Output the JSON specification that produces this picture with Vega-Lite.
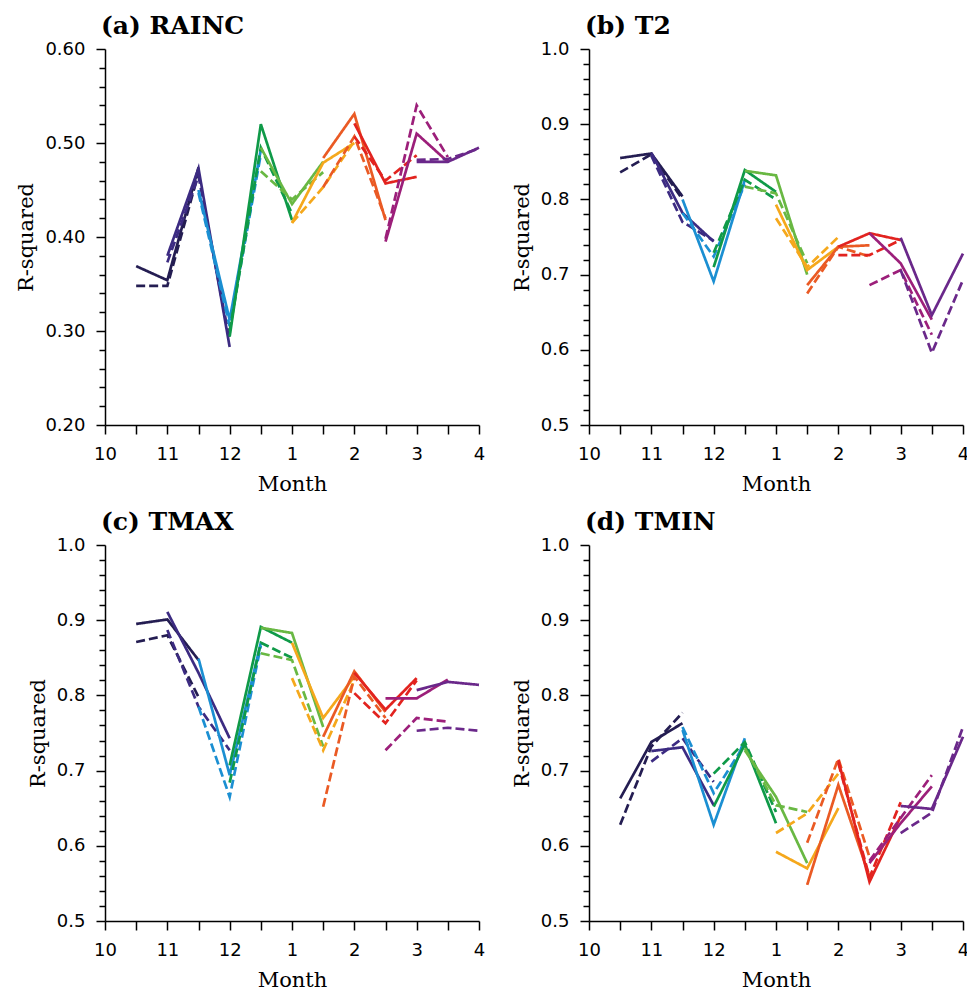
{
  "$schema": "https://vega.github.io/schema/vega-lite/v6.json",
  "padding": {"left": 15, "top": 14, "right": 0, "bottom": 0},
  "background": "white",
  "datasets": {
    "a": [
      {"s": "1", "k": "solid", "t": 0.5, "v": 0.369}, {"s": "1", "k": "solid", "t": 1, "v": 0.354}, {"s": "1", "k": "solid", "t": 1.5, "v": 0.474},
      {"s": "1", "k": "dashed", "t": 0.5, "v": 0.348}, {"s": "1", "k": "dashed", "t": 1, "v": 0.348}, {"s": "1", "k": "dashed", "t": 1.5, "v": 0.468},
      {"s": "2", "k": "solid", "t": 1, "v": 0.380}, {"s": "2", "k": "solid", "t": 1.5, "v": 0.473}, {"s": "2", "k": "solid", "t": 2, "v": 0.283},
      {"s": "2", "k": "dashed", "t": 1, "v": 0.373}, {"s": "2", "k": "dashed", "t": 1.5, "v": 0.465}, {"s": "2", "k": "dashed", "t": 2, "v": 0.290},
      {"s": "3", "k": "solid", "t": 1.5, "v": 0.450}, {"s": "3", "k": "solid", "t": 2, "v": 0.312}, {"s": "3", "k": "solid", "t": 2.5, "v": 0.493},
      {"s": "3", "k": "dashed", "t": 1.5, "v": 0.447}, {"s": "3", "k": "dashed", "t": 2, "v": 0.305}, {"s": "3", "k": "dashed", "t": 2.5, "v": 0.488},
      {"s": "4", "k": "solid", "t": 2, "v": 0.294}, {"s": "4", "k": "solid", "t": 2.5, "v": 0.520}, {"s": "4", "k": "solid", "t": 3, "v": 0.418},
      {"s": "4", "k": "dashed", "t": 2, "v": 0.300}, {"s": "4", "k": "dashed", "t": 2.5, "v": 0.495}, {"s": "4", "k": "dashed", "t": 3, "v": 0.425},
      {"s": "5", "k": "solid", "t": 2.5, "v": 0.495}, {"s": "5", "k": "solid", "t": 3, "v": 0.435}, {"s": "5", "k": "solid", "t": 3.5, "v": 0.480},
      {"s": "5", "k": "dashed", "t": 2.5, "v": 0.470}, {"s": "5", "k": "dashed", "t": 3, "v": 0.440}, {"s": "5", "k": "dashed", "t": 3.5, "v": 0.469},
      {"s": "6", "k": "solid", "t": 3, "v": 0.415}, {"s": "6", "k": "solid", "t": 3.5, "v": 0.479}, {"s": "6", "k": "solid", "t": 4, "v": 0.500},
      {"s": "6", "k": "dashed", "t": 3, "v": 0.415}, {"s": "6", "k": "dashed", "t": 3.5, "v": 0.453}, {"s": "6", "k": "dashed", "t": 4, "v": 0.502},
      {"s": "7", "k": "solid", "t": 3.5, "v": 0.484}, {"s": "7", "k": "solid", "t": 4, "v": 0.531}, {"s": "7", "k": "solid", "t": 4.5, "v": 0.418},
      {"s": "7", "k": "dashed", "t": 3.5, "v": 0.453}, {"s": "7", "k": "dashed", "t": 4, "v": 0.507}, {"s": "7", "k": "dashed", "t": 4.5, "v": 0.420},
      {"s": "8", "k": "solid", "t": 4, "v": 0.521}, {"s": "8", "k": "solid", "t": 4.5, "v": 0.457}, {"s": "8", "k": "solid", "t": 5, "v": 0.464},
      {"s": "8", "k": "dashed", "t": 4, "v": 0.507}, {"s": "8", "k": "dashed", "t": 4.5, "v": 0.460}, {"s": "8", "k": "dashed", "t": 5, "v": 0.487},
      {"s": "9", "k": "solid", "t": 4.5, "v": 0.395}, {"s": "9", "k": "solid", "t": 5, "v": 0.510}, {"s": "9", "k": "solid", "t": 5.5, "v": 0.480},
      {"s": "9", "k": "dashed", "t": 4.5, "v": 0.398}, {"s": "9", "k": "dashed", "t": 5, "v": 0.540}, {"s": "9", "k": "dashed", "t": 5.5, "v": 0.485},
      {"s": "10", "k": "solid", "t": 5, "v": 0.480}, {"s": "10", "k": "solid", "t": 5.5, "v": 0.480}, {"s": "10", "k": "solid", "t": 6, "v": 0.495},
      {"s": "10", "k": "dashed", "t": 5, "v": 0.482}, {"s": "10", "k": "dashed", "t": 5.5, "v": 0.483}, {"s": "10", "k": "dashed", "t": 6, "v": 0.494}
    ],
    "b": [
      {"s": "1", "k": "solid", "t": 0.5, "v": 0.855}, {"s": "1", "k": "solid", "t": 1, "v": 0.861}, {"s": "1", "k": "solid", "t": 1.5, "v": 0.804},
      {"s": "1", "k": "dashed", "t": 0.5, "v": 0.836}, {"s": "1", "k": "dashed", "t": 1, "v": 0.860}, {"s": "1", "k": "dashed", "t": 1.5, "v": 0.800},
      {"s": "2", "k": "solid", "t": 1, "v": 0.862}, {"s": "2", "k": "solid", "t": 1.5, "v": 0.782}, {"s": "2", "k": "solid", "t": 2, "v": 0.744},
      {"s": "2", "k": "dashed", "t": 1, "v": 0.858}, {"s": "2", "k": "dashed", "t": 1.5, "v": 0.770}, {"s": "2", "k": "dashed", "t": 2, "v": 0.745},
      {"s": "3", "k": "solid", "t": 1.5, "v": 0.800}, {"s": "3", "k": "solid", "t": 2, "v": 0.691}, {"s": "3", "k": "solid", "t": 2.5, "v": 0.826},
      {"s": "3", "k": "dashed", "t": 1.5, "v": 0.782}, {"s": "3", "k": "dashed", "t": 2, "v": 0.724}, {"s": "3", "k": "dashed", "t": 2.5, "v": 0.820},
      {"s": "4", "k": "solid", "t": 2, "v": 0.710}, {"s": "4", "k": "solid", "t": 2.5, "v": 0.839}, {"s": "4", "k": "solid", "t": 3, "v": 0.810},
      {"s": "4", "k": "dashed", "t": 2, "v": 0.729}, {"s": "4", "k": "dashed", "t": 2.5, "v": 0.826}, {"s": "4", "k": "dashed", "t": 3, "v": 0.800},
      {"s": "5", "k": "solid", "t": 2.5, "v": 0.838}, {"s": "5", "k": "solid", "t": 3, "v": 0.832}, {"s": "5", "k": "solid", "t": 3.5, "v": 0.700},
      {"s": "5", "k": "dashed", "t": 2.5, "v": 0.817}, {"s": "5", "k": "dashed", "t": 3, "v": 0.808}, {"s": "5", "k": "dashed", "t": 3.5, "v": 0.715},
      {"s": "6", "k": "solid", "t": 3, "v": 0.793}, {"s": "6", "k": "solid", "t": 3.5, "v": 0.706}, {"s": "6", "k": "solid", "t": 4, "v": 0.737},
      {"s": "6", "k": "dashed", "t": 3, "v": 0.775}, {"s": "6", "k": "dashed", "t": 3.5, "v": 0.710}, {"s": "6", "k": "dashed", "t": 4, "v": 0.750},
      {"s": "7", "k": "solid", "t": 3.5, "v": 0.686}, {"s": "7", "k": "solid", "t": 4, "v": 0.737}, {"s": "7", "k": "solid", "t": 4.5, "v": 0.739},
      {"s": "7", "k": "dashed", "t": 3.5, "v": 0.675}, {"s": "7", "k": "dashed", "t": 4, "v": 0.737}, {"s": "7", "k": "dashed", "t": 4.5, "v": 0.724},
      {"s": "8", "k": "solid", "t": 4, "v": 0.737}, {"s": "8", "k": "solid", "t": 4.5, "v": 0.755}, {"s": "8", "k": "solid", "t": 5, "v": 0.746},
      {"s": "8", "k": "dashed", "t": 4, "v": 0.726}, {"s": "8", "k": "dashed", "t": 4.5, "v": 0.726}, {"s": "8", "k": "dashed", "t": 5, "v": 0.746},
      {"s": "9", "k": "solid", "t": 4.5, "v": 0.755}, {"s": "9", "k": "solid", "t": 5, "v": 0.715}, {"s": "9", "k": "solid", "t": 5.5, "v": 0.640},
      {"s": "9", "k": "dashed", "t": 4.5, "v": 0.686}, {"s": "9", "k": "dashed", "t": 5, "v": 0.706}, {"s": "9", "k": "dashed", "t": 5.5, "v": 0.620},
      {"s": "10", "k": "solid", "t": 5, "v": 0.749}, {"s": "10", "k": "solid", "t": 5.5, "v": 0.646}, {"s": "10", "k": "solid", "t": 6, "v": 0.728},
      {"s": "10", "k": "dashed", "t": 5, "v": 0.706}, {"s": "10", "k": "dashed", "t": 5.5, "v": 0.596}, {"s": "10", "k": "dashed", "t": 6, "v": 0.693}
    ],
    "c": [
      {"s": "1", "k": "solid", "t": 0.5, "v": 0.895}, {"s": "1", "k": "solid", "t": 1, "v": 0.901}, {"s": "1", "k": "solid", "t": 1.5, "v": 0.847},
      {"s": "1", "k": "dashed", "t": 0.5, "v": 0.871}, {"s": "1", "k": "dashed", "t": 1, "v": 0.880}, {"s": "1", "k": "dashed", "t": 1.5, "v": 0.798},
      {"s": "2", "k": "solid", "t": 1, "v": 0.911}, {"s": "2", "k": "solid", "t": 1.5, "v": 0.830}, {"s": "2", "k": "solid", "t": 2, "v": 0.743},
      {"s": "2", "k": "dashed", "t": 1, "v": 0.887}, {"s": "2", "k": "dashed", "t": 1.5, "v": 0.785}, {"s": "2", "k": "dashed", "t": 2, "v": 0.727},
      {"s": "3", "k": "solid", "t": 1.5, "v": 0.849}, {"s": "3", "k": "solid", "t": 2, "v": 0.694}, {"s": "3", "k": "solid", "t": 2.5, "v": 0.870},
      {"s": "3", "k": "dashed", "t": 1.5, "v": 0.785}, {"s": "3", "k": "dashed", "t": 2, "v": 0.665}, {"s": "3", "k": "dashed", "t": 2.5, "v": 0.866},
      {"s": "4", "k": "solid", "t": 2, "v": 0.707}, {"s": "4", "k": "solid", "t": 2.5, "v": 0.891}, {"s": "4", "k": "solid", "t": 3, "v": 0.870},
      {"s": "4", "k": "dashed", "t": 2, "v": 0.684}, {"s": "4", "k": "dashed", "t": 2.5, "v": 0.870}, {"s": "4", "k": "dashed", "t": 3, "v": 0.850},
      {"s": "5", "k": "solid", "t": 2.5, "v": 0.890}, {"s": "5", "k": "solid", "t": 3, "v": 0.883}, {"s": "5", "k": "solid", "t": 3.5, "v": 0.758},
      {"s": "5", "k": "dashed", "t": 2.5, "v": 0.856}, {"s": "5", "k": "dashed", "t": 3, "v": 0.847}, {"s": "5", "k": "dashed", "t": 3.5, "v": 0.732},
      {"s": "6", "k": "solid", "t": 3, "v": 0.870}, {"s": "6", "k": "solid", "t": 3.5, "v": 0.770}, {"s": "6", "k": "solid", "t": 4, "v": 0.825},
      {"s": "6", "k": "dashed", "t": 3, "v": 0.823}, {"s": "6", "k": "dashed", "t": 3.5, "v": 0.727}, {"s": "6", "k": "dashed", "t": 4, "v": 0.820},
      {"s": "7", "k": "solid", "t": 3.5, "v": 0.745}, {"s": "7", "k": "solid", "t": 4, "v": 0.832}, {"s": "7", "k": "solid", "t": 4.5, "v": 0.778},
      {"s": "7", "k": "dashed", "t": 3.5, "v": 0.652}, {"s": "7", "k": "dashed", "t": 4, "v": 0.825}, {"s": "7", "k": "dashed", "t": 4.5, "v": 0.770},
      {"s": "8", "k": "solid", "t": 4, "v": 0.830}, {"s": "8", "k": "solid", "t": 4.5, "v": 0.781}, {"s": "8", "k": "solid", "t": 5, "v": 0.823},
      {"s": "8", "k": "dashed", "t": 4, "v": 0.803}, {"s": "8", "k": "dashed", "t": 4.5, "v": 0.763}, {"s": "8", "k": "dashed", "t": 5, "v": 0.820},
      {"s": "9", "k": "solid", "t": 4.5, "v": 0.796}, {"s": "9", "k": "solid", "t": 5, "v": 0.796}, {"s": "9", "k": "solid", "t": 5.5, "v": 0.821},
      {"s": "9", "k": "dashed", "t": 4.5, "v": 0.727}, {"s": "9", "k": "dashed", "t": 5, "v": 0.770}, {"s": "9", "k": "dashed", "t": 5.5, "v": 0.765},
      {"s": "10", "k": "solid", "t": 5, "v": 0.807}, {"s": "10", "k": "solid", "t": 5.5, "v": 0.818}, {"s": "10", "k": "solid", "t": 6, "v": 0.814},
      {"s": "10", "k": "dashed", "t": 5, "v": 0.753}, {"s": "10", "k": "dashed", "t": 5.5, "v": 0.757}, {"s": "10", "k": "dashed", "t": 6, "v": 0.753}
    ],
    "d": [
      {"s": "1", "k": "solid", "t": 0.5, "v": 0.663}, {"s": "1", "k": "solid", "t": 1, "v": 0.738}, {"s": "1", "k": "solid", "t": 1.5, "v": 0.763},
      {"s": "1", "k": "dashed", "t": 0.5, "v": 0.628}, {"s": "1", "k": "dashed", "t": 1, "v": 0.732}, {"s": "1", "k": "dashed", "t": 1.5, "v": 0.777},
      {"s": "2", "k": "solid", "t": 1, "v": 0.726}, {"s": "2", "k": "solid", "t": 1.5, "v": 0.731}, {"s": "2", "k": "solid", "t": 2, "v": 0.654},
      {"s": "2", "k": "dashed", "t": 1, "v": 0.712}, {"s": "2", "k": "dashed", "t": 1.5, "v": 0.743}, {"s": "2", "k": "dashed", "t": 2, "v": 0.685},
      {"s": "3", "k": "solid", "t": 1.5, "v": 0.754}, {"s": "3", "k": "solid", "t": 2, "v": 0.628}, {"s": "3", "k": "solid", "t": 2.5, "v": 0.743},
      {"s": "3", "k": "dashed", "t": 1.5, "v": 0.758}, {"s": "3", "k": "dashed", "t": 2, "v": 0.670}, {"s": "3", "k": "dashed", "t": 2.5, "v": 0.735},
      {"s": "4", "k": "solid", "t": 2, "v": 0.652}, {"s": "4", "k": "solid", "t": 2.5, "v": 0.735}, {"s": "4", "k": "solid", "t": 3, "v": 0.630},
      {"s": "4", "k": "dashed", "t": 2, "v": 0.696}, {"s": "4", "k": "dashed", "t": 2.5, "v": 0.738}, {"s": "4", "k": "dashed", "t": 3, "v": 0.645},
      {"s": "5", "k": "solid", "t": 2.5, "v": 0.727}, {"s": "5", "k": "solid", "t": 3, "v": 0.665}, {"s": "5", "k": "solid", "t": 3.5, "v": 0.577},
      {"s": "5", "k": "dashed", "t": 2.5, "v": 0.730}, {"s": "5", "k": "dashed", "t": 3, "v": 0.654}, {"s": "5", "k": "dashed", "t": 3.5, "v": 0.645},
      {"s": "6", "k": "solid", "t": 3, "v": 0.592}, {"s": "6", "k": "solid", "t": 3.5, "v": 0.570}, {"s": "6", "k": "solid", "t": 4, "v": 0.650},
      {"s": "6", "k": "dashed", "t": 3, "v": 0.617}, {"s": "6", "k": "dashed", "t": 3.5, "v": 0.643}, {"s": "6", "k": "dashed", "t": 4, "v": 0.696},
      {"s": "7", "k": "solid", "t": 3.5, "v": 0.548}, {"s": "7", "k": "solid", "t": 4, "v": 0.681}, {"s": "7", "k": "solid", "t": 4.5, "v": 0.559},
      {"s": "7", "k": "dashed", "t": 3.5, "v": 0.604}, {"s": "7", "k": "dashed", "t": 4, "v": 0.716}, {"s": "7", "k": "dashed", "t": 4.5, "v": 0.585},
      {"s": "8", "k": "solid", "t": 4, "v": 0.714}, {"s": "8", "k": "solid", "t": 4.5, "v": 0.552}, {"s": "8", "k": "solid", "t": 5, "v": 0.639},
      {"s": "8", "k": "dashed", "t": 4, "v": 0.710}, {"s": "8", "k": "dashed", "t": 4.5, "v": 0.558}, {"s": "8", "k": "dashed", "t": 5, "v": 0.658},
      {"s": "9", "k": "solid", "t": 4.5, "v": 0.577}, {"s": "9", "k": "solid", "t": 5, "v": 0.630}, {"s": "9", "k": "solid", "t": 5.5, "v": 0.679},
      {"s": "9", "k": "dashed", "t": 4.5, "v": 0.580}, {"s": "9", "k": "dashed", "t": 5, "v": 0.637}, {"s": "9", "k": "dashed", "t": 5.5, "v": 0.694},
      {"s": "10", "k": "solid", "t": 5, "v": 0.653}, {"s": "10", "k": "solid", "t": 5.5, "v": 0.649}, {"s": "10", "k": "solid", "t": 6, "v": 0.745},
      {"s": "10", "k": "dashed", "t": 5, "v": 0.617}, {"s": "10", "k": "dashed", "t": 5.5, "v": 0.644}, {"s": "10", "k": "dashed", "t": 6, "v": 0.758}
    ]
  },
  "columns": 2,
  "spacing": {"row": 120, "column": 110},
  "bounds": "flush",
  "resolve": {"scale": {"x": "independent", "y": "independent"}},
  "concat": [
    {
      "width": 374, "height": 376,
      "title": {"text": "(a) RAINC"},
      "data": {"name": "a"},
      "mark": {"type": "line", "strokeWidth": 2.7},
      "encoding": {
        "x": {"field": "t", "type": "quantitative", "title": "Month",
              "scale": {"domain": [0, 6], "nice": false, "zero": false},
              "axis": {"values": [0, 0.5, 1, 1.5, 2, 2.5, 3, 3.5, 4, 4.5, 5, 5.5, 6],
                       "labelExpr": "datum.value % 1 ? '' : ((datum.value + 9) % 12 + 1) + ''"}},
        "y": {"field": "v", "type": "quantitative", "title": "R-squared",
              "scale": {"domain": [0.2, 0.6], "nice": false, "zero": false},
              "axis": {"values": [0.2, 0.22, 0.24, 0.26, 0.28, 0.3, 0.32, 0.34, 0.36, 0.38, 0.4, 0.42, 0.44, 0.46, 0.48, 0.5, 0.52, 0.54, 0.56, 0.58, 0.6],
                       "labelExpr": "abs(datum.value*10 - round(datum.value*10)) < 0.001 ? format(datum.value, '.2f') : ''",
                       "tickSize": {"condition": {"test": "abs(datum.value*10 - round(datum.value*10)) < 0.001", "value": 9}, "value": 6}}},
        "color": {"field": "s", "type": "nominal", "legend": null,
                  "scale": {"domain": ["1","2","3","4","5","6","7","8","9","10"], "range": ["#241d52","#3c2b82","#1b8fd2","#0f9a48","#69b843","#f5a81c","#ea5a24","#e2231f","#9c1f7a","#6a288a"]}},
        "strokeDash": {"field": "k", "type": "nominal", "legend": null,
                       "scale": {"domain": ["solid","dashed"], "range": [[1,0],[9,4]]}}
      }
    },
    {
      "width": 374, "height": 376,
      "title": {"text": "(b) T2"},
      "data": {"name": "b"},
      "mark": {"type": "line", "strokeWidth": 2.7},
      "encoding": {
        "x": {"field": "t", "type": "quantitative", "title": "Month",
              "scale": {"domain": [0, 6], "nice": false, "zero": false},
              "axis": {"values": [0, 0.5, 1, 1.5, 2, 2.5, 3, 3.5, 4, 4.5, 5, 5.5, 6],
                       "labelExpr": "datum.value % 1 ? '' : ((datum.value + 9) % 12 + 1) + ''"}},
        "y": {"field": "v", "type": "quantitative", "title": "R-squared",
              "scale": {"domain": [0.5, 1.0], "nice": false, "zero": false},
              "axis": {"values": [0.5, 0.52, 0.54, 0.56, 0.58, 0.6, 0.62, 0.64, 0.66, 0.68, 0.7, 0.72, 0.74, 0.76, 0.78, 0.8, 0.82, 0.84, 0.86, 0.88, 0.9, 0.92, 0.94, 0.96, 0.98, 1.0],
                       "labelExpr": "abs(datum.value*10 - round(datum.value*10)) < 0.001 ? format(datum.value, '.1f') : ''",
                       "tickSize": {"condition": {"test": "abs(datum.value*10 - round(datum.value*10)) < 0.001", "value": 9}, "value": 6}}},
        "color": {"field": "s", "type": "nominal", "legend": null,
                  "scale": {"domain": ["1","2","3","4","5","6","7","8","9","10"], "range": ["#241d52","#3c2b82","#1b8fd2","#0f9a48","#69b843","#f5a81c","#ea5a24","#e2231f","#9c1f7a","#6a288a"]}},
        "strokeDash": {"field": "k", "type": "nominal", "legend": null,
                       "scale": {"domain": ["solid","dashed"], "range": [[1,0],[9,4]]}}
      }
    },
    {
      "width": 374, "height": 376,
      "title": {"text": "(c) TMAX"},
      "data": {"name": "c"},
      "mark": {"type": "line", "strokeWidth": 2.7},
      "encoding": {
        "x": {"field": "t", "type": "quantitative", "title": "Month",
              "scale": {"domain": [0, 6], "nice": false, "zero": false},
              "axis": {"values": [0, 0.5, 1, 1.5, 2, 2.5, 3, 3.5, 4, 4.5, 5, 5.5, 6],
                       "labelExpr": "datum.value % 1 ? '' : ((datum.value + 9) % 12 + 1) + ''"}},
        "y": {"field": "v", "type": "quantitative", "title": "R-squared",
              "scale": {"domain": [0.5, 1.0], "nice": false, "zero": false},
              "axis": {"values": [0.5, 0.52, 0.54, 0.56, 0.58, 0.6, 0.62, 0.64, 0.66, 0.68, 0.7, 0.72, 0.74, 0.76, 0.78, 0.8, 0.82, 0.84, 0.86, 0.88, 0.9, 0.92, 0.94, 0.96, 0.98, 1.0],
                       "labelExpr": "abs(datum.value*10 - round(datum.value*10)) < 0.001 ? format(datum.value, '.1f') : ''",
                       "tickSize": {"condition": {"test": "abs(datum.value*10 - round(datum.value*10)) < 0.001", "value": 9}, "value": 6}}},
        "color": {"field": "s", "type": "nominal", "legend": null,
                  "scale": {"domain": ["1","2","3","4","5","6","7","8","9","10"], "range": ["#241d52","#3c2b82","#1b8fd2","#0f9a48","#69b843","#f5a81c","#ea5a24","#e2231f","#9c1f7a","#6a288a"]}},
        "strokeDash": {"field": "k", "type": "nominal", "legend": null,
                       "scale": {"domain": ["solid","dashed"], "range": [[1,0],[9,4]]}}
      }
    },
    {
      "width": 374, "height": 376,
      "title": {"text": "(d) TMIN"},
      "data": {"name": "d"},
      "mark": {"type": "line", "strokeWidth": 2.7},
      "encoding": {
        "x": {"field": "t", "type": "quantitative", "title": "Month",
              "scale": {"domain": [0, 6], "nice": false, "zero": false},
              "axis": {"values": [0, 0.5, 1, 1.5, 2, 2.5, 3, 3.5, 4, 4.5, 5, 5.5, 6],
                       "labelExpr": "datum.value % 1 ? '' : ((datum.value + 9) % 12 + 1) + ''"}},
        "y": {"field": "v", "type": "quantitative", "title": "R-squared",
              "scale": {"domain": [0.5, 1.0], "nice": false, "zero": false},
              "axis": {"values": [0.5, 0.52, 0.54, 0.56, 0.58, 0.6, 0.62, 0.64, 0.66, 0.68, 0.7, 0.72, 0.74, 0.76, 0.78, 0.8, 0.82, 0.84, 0.86, 0.88, 0.9, 0.92, 0.94, 0.96, 0.98, 1.0],
                       "labelExpr": "abs(datum.value*10 - round(datum.value*10)) < 0.001 ? format(datum.value, '.1f') : ''",
                       "tickSize": {"condition": {"test": "abs(datum.value*10 - round(datum.value*10)) < 0.001", "value": 9}, "value": 6}}},
        "color": {"field": "s", "type": "nominal", "legend": null,
                  "scale": {"domain": ["1","2","3","4","5","6","7","8","9","10"], "range": ["#241d52","#3c2b82","#1b8fd2","#0f9a48","#69b843","#f5a81c","#ea5a24","#e2231f","#9c1f7a","#6a288a"]}},
        "strokeDash": {"field": "k", "type": "nominal", "legend": null,
                       "scale": {"domain": ["solid","dashed"], "range": [[1,0],[9,4]]}}
      }
    }
  ],
  "config": {
    "view": {"stroke": null},
    "axis": {
      "grid": false,
      "domainColor": "black", "domainWidth": 1.5,
      "tickColor": "black", "tickWidth": 1.5, "tickSize": 9,
      "labelFont": "DejaVu Sans", "labelFontSize": 18, "labelColor": "black",
      "labelOverlap": false, "labelFlush": false,
      "titleFont": "DejaVu Serif", "titleFontSize": 21, "titleFontWeight": "normal", "titleColor": "black"
    },
    "axisX": {"labelPadding": 11, "titlePadding": 10},
    "axisY": {"labelPadding": 11, "titlePadding": 8},
    "title": {"font": "DejaVu Serif", "fontSize": 25, "fontWeight": "bold", "color": "black", "anchor": "start", "frame": "group", "baseline": "alphabetic", "offset": 1, "dx": -4}
  }
}
